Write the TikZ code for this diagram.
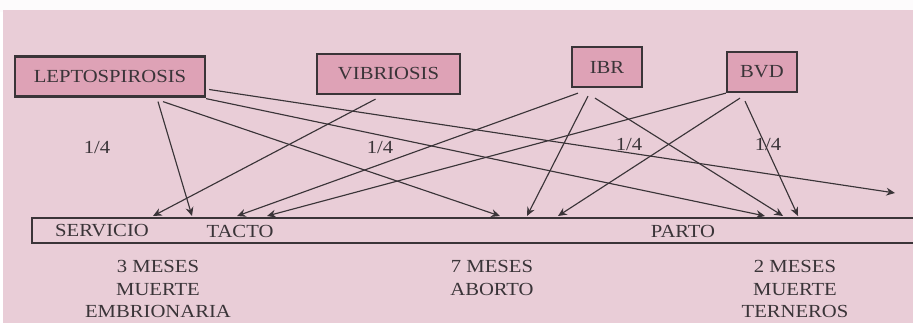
\documentclass[tikz,border=0pt]{standalone}
\usepackage{fontspec}
\setmainfont{Liberation Serif}[FakeStretch=1.12]
\usetikzlibrary{arrows.meta}
\definecolor{fondo}{RGB}{233,205,215}
\definecolor{rosa}{RGB}{222,162,182}
\definecolor{tinta}{RGB}{58,52,56}
\tikzset{
  caja/.style={draw=tinta, line width=1.3pt, fill=rosa, text=tinta, inner sep=0pt,
    minimum height=0.8cm, font=\fontsize{10.5}{12}\selectfont},
  flecha/.style={draw=tinta, line width=0.65pt, -{Stealth[length=5pt,width=4.5pt]}},
  texto/.style={text=tinta, font=\fontsize{10.5}{13}\selectfont, align=center},
}

\begin{document}
\begin{tikzpicture}[x=0.02cm, y=-0.02cm]
  %%%%% FONDO %%%%%
  \useasboundingbox (0,0) rectangle (913,323);
  \fill[white!92!fondo] (0,0) rectangle (913,12);
  \fill[fondo] (3,10) rectangle (913,323);

  %%%%% ENFERMEDADES %%%%%
  \node[caja, minimum width=3.8cm] (lepto) at (110,76.5) {LEPTOSPIROSIS};
  \node[caja, minimum width=2.86cm] (vibrio) at (388.5,74) {VIBRIOSIS};
  \node[caja, minimum width=1.4cm] (ibr) at (607,67) {IBR};
  \node[caja, minimum width=1.4cm] (bvd) at (762,72) {BVD};

  %%%%% LINEA DE TIEMPO %%%%%
  \draw[tinta, line width=0.9pt] (32,218) rectangle (918,243);
  \node[texto] (servicio) at (102,231) {SERVICIO};
  \node[texto] (tacto) at (240,231) {TACTO};
  \node[texto] (parto) at (683,231) {PARTO};

  \foreach \n/\x in {serv1/153,serv2/192,tacto1/237,tacto2/267,abo1/500,abo2/527,abo3/558,ter1/765,ter2/783,ter3/798}
    \coordinate (\n) at (\x,216);
  \coordinate (fin) at (895,193);

  %%%%% FLECHAS %%%%%
  \draw[flecha] ([shift={(48,4)}]lepto.south) -- (serv2);
  \draw[flecha] ([shift={(53,4)}]lepto.south) -- (abo1);
  \draw[flecha] ([shift={(0,1)}]lepto.south east) -- (ter1);
  \draw[flecha] ([shift={(3,13)}]lepto.east) -- (fin);

  \draw[flecha] ([shift={(-13,4)}]vibrio.south) -- (serv1);

  \draw[flecha] ([shift={(-29,5)}]ibr.south) -- (tacto1);
  \draw[flecha] ([shift={(-19,8)}]ibr.south) -- (abo2);
  \draw[flecha] ([shift={(-12,10)}]ibr.south) -- (ter2);

  \draw[flecha] (bvd.south west) -- (tacto2);
  \draw[flecha] ([shift={(-22,5)}]bvd.south) -- (abo3);
  \draw[flecha] ([shift={(-17,8)}]bvd.south) -- (ter3);

  %%%%% PROPORCIONES %%%%%
  \node[texto] (cuarto1) at (97,148) {1/4};
  \node[texto] (cuarto2) at (380,148) {1/4};
  \node[texto] (cuarto3) at (629,145) {1/4};
  \node[texto] (cuarto4) at (768,145) {1/4};

  %%%%% CONSECUENCIAS %%%%%
  \node[texto] (embrion) at (158,289) {3 MESES\\MUERTE\\EMBRIONARIA};
  \node[texto] (aborto) at (492,278) {7 MESES\\ABORTO};
  \node[texto] (terneros) at (795,289) {2 MESES\\MUERTE\\TERNEROS};
\end{tikzpicture}
\end{document}
